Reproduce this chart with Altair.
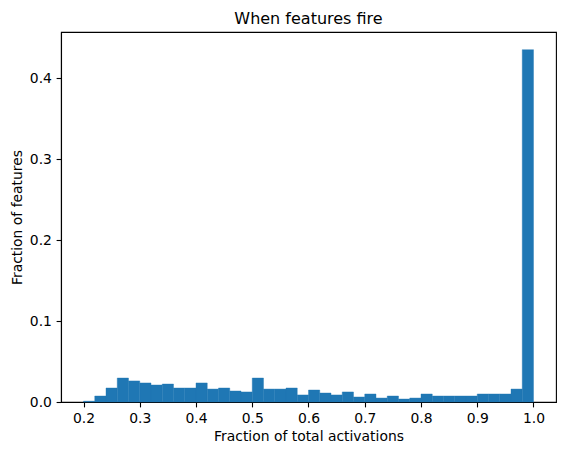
import altair as alt
import pandas as pd

bin_start = [round(0.20 + 0.02 * i, 2) for i in range(40)]
fraction = [
    0.001, 0.0074, 0.0173, 0.0296, 0.026, 0.0235, 0.021, 0.0222, 0.0173, 0.0173,
    0.0235, 0.016, 0.0173, 0.0136, 0.0124, 0.0296, 0.016, 0.016, 0.0173, 0.0087,
    0.0148, 0.0111, 0.0087, 0.0124, 0.0062, 0.0099, 0.0049, 0.0074, 0.0037, 0.0049,
    0.0099, 0.0074, 0.0074, 0.0074, 0.0074, 0.0099, 0.0099, 0.0099, 0.016, 0.435,
]
bin_width = 0.02

df = pd.DataFrame({"start": bin_start, "frac": fraction})
df["end"] = df["start"] + bin_width

FONT = "DejaVu Sans"

chart = alt.Chart(df).mark_bar(color="#1f77b4", stroke="#1f77b4", strokeWidth=0.4,
                               binSpacing=0).encode(
    x=alt.X("start:Q",
            scale=alt.Scale(domain=[0.16, 1.04], nice=False, zero=False),
            axis=alt.Axis(title="Fraction of total activations",
                          values=[0.2, 0.3, 0.4, 0.5, 0.6, 0.7, 0.8, 0.9, 1.0],
                          format=".1f", labelPadding=5, titlePadding=4)),
    x2="end:Q",
    y=alt.Y("frac:Q",
            scale=alt.Scale(domain=[0, 0.4568], nice=False),
            axis=alt.Axis(title="Fraction of features",
                          values=[0.0, 0.1, 0.2, 0.3, 0.4],
                          format=".1f", labelPadding=4.7, titlePadding=5)),
    y2=alt.datum(0),
).properties(
    width=495,
    height=370,
    background="white",
    title=alt.TitleParams("When features fire", fontSize=16, fontWeight="normal",
                          font=FONT, color="black", offset=5),
    autosize=alt.AutoSizeParams(type="none"),
    padding={"left": 53, "top": 24, "right": 3, "bottom": 45},
).configure_view(
    stroke="black", strokeWidth=1.1
).configure_axis(
    grid=False,
    domainColor="black", domainWidth=1.1,
    tickColor="black", tickWidth=1.1, tickSize=4.9,
    labelFont=FONT, labelFontSize=13.9, labelColor="black",
    titleFont=FONT, titleFontSize=13.9, titleFontWeight="normal", titleColor="black",
)

chart.save("out.html", embed_options={"renderer": "svg", "actions": False})
